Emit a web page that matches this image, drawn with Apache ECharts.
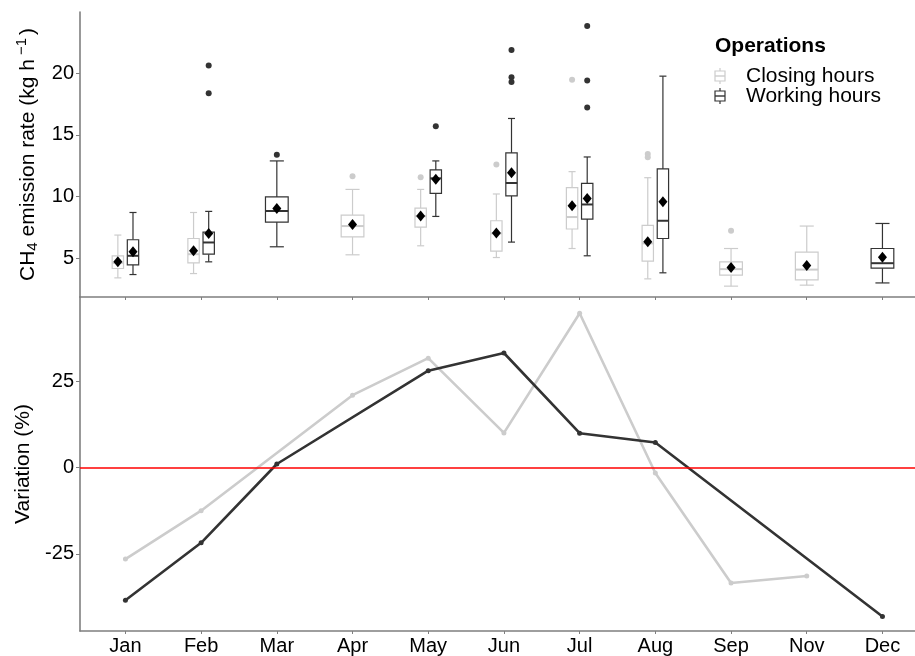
<!DOCTYPE html>
<html>
<head>
<meta charset="utf-8">
<script src="https://cdn.jsdelivr.net/npm/echarts@6/dist/echarts.min.js"></script>
<style>
  html, body { margin: 0; padding: 0; background: #ffffff; }
  #chart { width: 915px; height: 656px; }
</style>
</head>
<body>
<div id="chart"></div>
<script>
// Months with observations (no October campaign)
const months = ['Jan', 'Feb', 'Mar', 'Apr', 'May', 'Jun', 'Jul', 'Aug', 'Sep', 'Nov', 'Dec'];

// CH4 emission rate box statistics (kg/h): [lower whisker, Q1, median, Q3, upper whisker]
const closingBox = [
  [3.40, 4.16, 4.62, 5.19, 6.87],
  [3.75, 4.62, 5.32, 6.59, 8.70],
  null,
  [5.27, 6.73, 7.60, 8.49, 10.57],
  [6.00, 7.52, 8.40, 9.06, 10.57],
  [5.05, 5.57, 7.00, 8.03, 10.20],
  [5.78, 7.36, 8.33, 10.71, 12.01],
  [3.32, 4.76, 6.20, 7.65, 11.52],
  [2.73, 3.62, 4.11, 4.70, 5.78],
  [2.81, 3.24, 4.07, 5.49, 7.60],
  null
];
const workingBox = [
  [3.67, 4.46, 5.19, 6.49, 8.70],
  [4.70, 5.32, 6.27, 7.11, 8.79],
  [5.92, 7.92, 8.82, 9.96, 12.88],
  null,
  [8.38, 10.25, 11.47, 12.15, 12.88],
  [6.30, 10.04, 11.09, 13.53, 16.32],
  [5.19, 8.17, 9.35, 11.06, 13.20],
  [3.81, 6.59, 8.03, 12.23, 19.75],
  null,
  null,
  [2.99, 4.19, 4.59, 5.78, 7.81]
];

// Monthly means (kg/h)
const closingMean = [4.70, 5.59, null, 7.73, 8.41, 7.03, 9.25, 6.32, 4.24, 4.40, null];
const workingMean = [5.51, 7.00, 9.03, null, 11.40, 11.93, 9.84, 9.57, null, null, 5.08];

// Outlying observations (kg/h)
const closingOutliers = [[], [], [], [11.63], [11.55], [12.58], [19.46], [13.45, 13.17], [7.22], [], []];
const workingOutliers = [[], [20.62, 18.37], [13.37], [], [15.69], [21.86, 19.66, 19.28], [23.81, 19.40, 17.21], [], [], [], []];

// Variation relative to the annual mean (%)
const closingVariation = [-26.5, -12.5, null, 20.9, 31.6, 10.0, 44.6, -1.6, -33.4, -31.4, null];
const workingVariation = [-38.4, -21.8, 1.0, null, 28.0, 33.1, 9.9, 7.2, null, null, -43.1];

// Axis tick values
const emissionTicks = [5, 10, 15, 20];
const variationTicks = [-25, 0, 25];

const FONT = '"Liberation Sans", Arial, Helvetica, sans-serif';
const AXIS_COLOR = '#7f7f7f';
const CLOSING_COLOR = '#cccccc';
const WORKING_COLOR = '#333333';

// dodge layout (x units): paired boxes sit side by side, a lone box takes the full width
const DODGE = 0.1;
const PAIR_W = 0.15;
const SINGLE_W = 0.3;

const monthPos = months.map((m, i) => i + 1);

function xOf(i, own, other, side) {
  return (i + 1) + (other[i] ? side * DODGE : 0);
}

function boxItems(own, other, side) {
  const out = [];
  own.forEach((s, i) => {
    if (!s) return;
    out.push([xOf(i, own, other, side)].concat(s, [other[i] ? PAIR_W : SINGLE_W]));
  });
  return out;
}

function meanItems(mean, own, other, side) {
  const out = [];
  mean.forEach((v, i) => {
    if (v == null) return;
    out.push([xOf(i, own, other, side), v]);
  });
  return out;
}

function outlierItems(outl, own, other, side) {
  const out = [];
  outl.forEach((arr, i) => {
    arr.forEach(v => out.push([xOf(i, own, other, side), v]));
  });
  return out;
}

function lineItems(values) {
  const out = [];
  values.forEach((v, i) => { if (v != null) out.push([i + 1, v]); });
  return out;
}

function boxRenderer(color) {
  return function (params, api) {
    const x = api.value(0);
    const lo = api.coord([x, api.value(1)]);
    const q1 = api.coord([x, api.value(2)]);
    const med = api.coord([x, api.value(3)]);
    const q3 = api.coord([x, api.value(4)]);
    const hi = api.coord([x, api.value(5)]);
    const half = api.size([api.value(6), 0])[0] / 2;
    const cap = half * 0.62;
    const cx = lo[0];
    const ls = { stroke: color, lineWidth: 1.2, fill: null };
    return {
      type: 'group',
      children: [
        { type: 'line', shape: { x1: cx, y1: lo[1], x2: cx, y2: q1[1] }, style: ls },
        { type: 'line', shape: { x1: cx, y1: q3[1], x2: cx, y2: hi[1] }, style: ls },
        { type: 'line', shape: { x1: cx - cap, y1: lo[1], x2: cx + cap, y2: lo[1] }, style: ls },
        { type: 'line', shape: { x1: cx - cap, y1: hi[1], x2: cx + cap, y2: hi[1] }, style: ls },
        { type: 'rect', shape: { x: cx - half, y: q3[1], width: half * 2, height: q1[1] - q3[1] },
          style: { stroke: color, lineWidth: 1.2, fill: '#ffffff' } },
        { type: 'line', shape: { x1: cx - half, y1: med[1], x2: cx + half, y2: med[1] },
          style: { stroke: color, lineWidth: 2 } }
      ]
    };
  };
}

function xAxisCfg(gridIndex, withLabels) {
  return {
    gridIndex: gridIndex,
    type: 'value',
    min: 0.4,
    max: 11.43,
    axisLine: { show: true, onZero: false, lineStyle: { color: AXIS_COLOR, width: 1.6 } },
    axisTick: { show: true, customValues: monthPos, length: 3, lineStyle: { color: AXIS_COLOR, width: 1 } },
    axisLabel: {
      show: withLabels,
      customValues: monthPos,
      formatter: v => months[Math.round(v) - 1] || '',
      fontSize: 20, color: '#000', fontFamily: FONT, margin: 5
    },
    splitLine: { show: false }
  };
}

function yAxisCfg(gridIndex, min, max, ticks, name, gap, nameStyle) {
  return {
    gridIndex: gridIndex,
    type: 'value',
    min: min,
    max: max,
    axisLine: { show: true, onZero: false, lineStyle: { color: AXIS_COLOR, width: 1.6 } },
    axisTick: { show: true, customValues: ticks, length: 4, lineStyle: { color: AXIS_COLOR, width: 1 } },
    axisLabel: { customValues: ticks, fontSize: 20, color: '#000', fontFamily: FONT, margin: 6 },
    splitLine: { show: false },
    name: name,
    nameLocation: 'middle',
    nameGap: gap,
    nameRotate: 90,
    nameTextStyle: Object.assign({ fontSize: 21, color: '#000', fontFamily: FONT }, nameStyle || {})
  };
}

const chart = echarts.init(document.getElementById('chart'), null, { renderer: 'canvas' });

function legendKey(y, color) {
  return {
    type: 'group', x: 720, y: y,
    children: [
      { type: 'line', shape: { x1: 0, y1: -8, x2: 0, y2: -5 }, style: { stroke: color, lineWidth: 1.2 } },
      { type: 'rect', shape: { x: -5, y: -5, width: 10, height: 10 }, style: { stroke: color, lineWidth: 1.2, fill: '#fff' } },
      { type: 'line', shape: { x1: -5, y1: 0, x2: 5, y2: 0 }, style: { stroke: color, lineWidth: 1.4 } },
      { type: 'line', shape: { x1: 0, y1: 5, x2: 0, y2: 8 }, style: { stroke: color, lineWidth: 1.2 } }
    ]
  };
}

chart.setOption({
  animation: false,
  backgroundColor: '#ffffff',
  grid: [
    { left: 80, right: 0, top: 12, height: 285 },
    { left: 80, right: 0, top: 297, height: 334 }
  ],
  xAxis: [xAxisCfg(0, false), xAxisCfg(1, true)],
  yAxis: [
    yAxisCfg(0, 1.85, 24.95, emissionTicks, 'CH{sub|4} emission rate (kg h{sup|−1})', 39, {
      lineHeight: 26,
      rich: {
        sub: { fontSize: 15, lineHeight: 14, verticalAlign: 'bottom', fontFamily: FONT, color: '#000' },
        sup: { fontSize: 15, lineHeight: 8, verticalAlign: 'top', fontFamily: FONT, color: '#000', padding: [0, 3, 0, 4] }
      }
    }),
    yAxisCfg(1, -47.3, 49.3, variationTicks, 'Variation (%)', 44)
  ],
  graphic: [
    { type: 'text', x: 715, y: 46, style: { text: 'Operations', fontSize: 21, fontWeight: 'bold', fontFamily: FONT, fill: '#000', verticalAlign: 'middle' } },
    legendKey(76, CLOSING_COLOR),
    { type: 'text', x: 746, y: 76, style: { text: 'Closing hours', fontSize: 21, fontFamily: FONT, fill: '#000', verticalAlign: 'middle' } },
    legendKey(96, WORKING_COLOR),
    { type: 'text', x: 746, y: 96, style: { text: 'Working hours', fontSize: 21, fontFamily: FONT, fill: '#000', verticalAlign: 'middle' } }
  ],
  series: [
    {
      name: 'Closing hours', type: 'custom', xAxisIndex: 0, yAxisIndex: 0,
      renderItem: boxRenderer(CLOSING_COLOR),
      encode: { x: 0, y: [1, 2, 3, 4, 5] },
      data: boxItems(closingBox, workingBox, -1)
    },
    {
      name: 'Working hours', type: 'custom', xAxisIndex: 0, yAxisIndex: 0,
      renderItem: boxRenderer(WORKING_COLOR),
      encode: { x: 0, y: [1, 2, 3, 4, 5] },
      data: boxItems(workingBox, closingBox, 1)
    },
    {
      type: 'scatter', xAxisIndex: 0, yAxisIndex: 0, symbol: 'circle', symbolSize: 6,
      itemStyle: { color: CLOSING_COLOR, opacity: 1 }, silent: true,
      data: outlierItems(closingOutliers, closingBox, workingBox, -1)
    },
    {
      type: 'scatter', xAxisIndex: 0, yAxisIndex: 0, symbol: 'circle', symbolSize: 6,
      itemStyle: { color: WORKING_COLOR, opacity: 1 }, silent: true,
      data: outlierItems(workingOutliers, workingBox, closingBox, 1)
    },
    {
      type: 'scatter', xAxisIndex: 0, yAxisIndex: 0, symbol: 'diamond', symbolSize: [9, 11],
      itemStyle: { color: '#000000', opacity: 1 }, silent: true,
      data: meanItems(closingMean, closingBox, workingBox, -1).concat(meanItems(workingMean, workingBox, closingBox, 1))
    },
    {
      type: 'line', xAxisIndex: 1, yAxisIndex: 1, symbol: 'circle', symbolSize: 5, showSymbol: true,
      lineStyle: { color: CLOSING_COLOR, width: 2.6 }, itemStyle: { color: CLOSING_COLOR },
      silent: true,
      data: lineItems(closingVariation),
      markLine: {
        silent: true, symbol: 'none', label: { show: false },
        lineStyle: { color: '#ff0000', width: 1.6, type: 'solid' },
        data: [{ yAxis: 0 }]
      }
    },
    {
      type: 'line', xAxisIndex: 1, yAxisIndex: 1, symbol: 'circle', symbolSize: 5, showSymbol: true,
      lineStyle: { color: WORKING_COLOR, width: 2.6 }, itemStyle: { color: WORKING_COLOR },
      silent: true,
      data: lineItems(workingVariation)
    }
  ]
});
</script>
</body>
</html>
